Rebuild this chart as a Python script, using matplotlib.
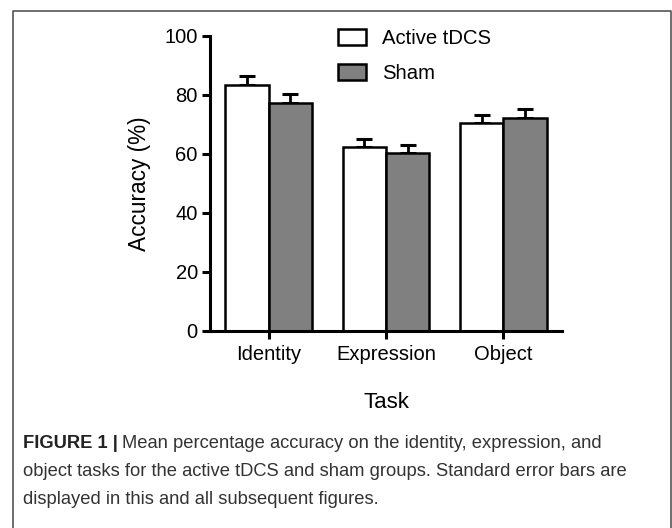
import numpy as np
import matplotlib.pyplot as plt
from matplotlib.lines import Line2D

plt.rcParams['font.family'] = ['Liberation Sans', 'DejaVu Sans']

tasks = ['Identity', 'Expression', 'Object']
active = [83.3, 62.4, 70.3]
active_se = [3.0, 2.6, 2.8]
sham = [77.1, 60.3, 72.1]
sham_se = [3.3, 2.6, 3.0]

fig = plt.figure(figsize=(6.72, 5.28), dpi=100)
ax = fig.add_axes([0.3125, 0.3737, 0.5238, 0.5582])

x = np.arange(len(tasks))
w = 0.368
ax.bar(x - w / 2, active, w, color='white', edgecolor='black', linewidth=1.8,
       label='Active tDCS', zorder=2)
ax.bar(x + w / 2, sham, w, color='#808080', edgecolor='black', linewidth=1.8,
       label='Sham', zorder=2)
# only the upper half of the standard error bar is shown
ax.errorbar(x - w / 2, active, yerr=[np.zeros(3), active_se], fmt='none', ecolor='black',
            elinewidth=2.0, capsize=5.5, capthick=2.2, zorder=1)
ax.errorbar(x + w / 2, sham, yerr=[np.zeros(3), sham_se], fmt='none', ecolor='black',
            elinewidth=2.0, capsize=5.5, capthick=2.2, zorder=1)

ax.set_xlim(-0.5, 2.5)
ax.set_ylim(0, 100)
ax.set_yticks([0, 20, 40, 60, 80, 100])
ax.set_xticks(x)
ax.set_xticklabels(tasks)
for s in ['top', 'right']:
    ax.spines[s].set_visible(False)
for s in ['left', 'bottom']:
    ax.spines[s].set_linewidth(2.2)
ax.tick_params(width=2.2, length=5.8, labelsize=14.5, pad=3)
ax.tick_params(axis='x', pad=4.5)
ax.set_ylabel('Accuracy (%)', fontsize=16.3, labelpad=10)
ax.set_xlabel('Task', fontsize=16, labelpad=20)

ax.legend(frameon=False, fontsize=14.6, loc='upper left',
          bbox_to_anchor=(338 / 672, 1 - 29 / 528), bbox_transform=fig.transFigure,
          handlelength=1.39, handleheight=0.8, handletextpad=0.8, labelspacing=0.8,
          borderpad=0, borderaxespad=0)

# outer frame of the figure panel
x0, x1, top = 13 / 672, 671 / 672, 1 - 11 / 528
fig.add_artist(Line2D([x0, x0, x1, x1], [0, top, top, 0], transform=fig.transFigure,
                      color='#555555', linewidth=1.2))

cap_fs = 13.25
cap_x = 23 / 672
head = fig.text(cap_x, 1 - 443 / 528, 'FIGURE 1 |', fontsize=cap_fs, fontweight='bold',
                color='#222222', va='center')
fig.canvas.draw()
bb = head.get_window_extent().transformed(fig.transFigure.inverted())
fig.text(bb.x1 + 4 / 672, 1 - 443 / 528, 'Mean percentage accuracy on the identity, expression, and',
         fontsize=cap_fs, color='#333333', va='center')
fig.text(cap_x, 1 - 472 / 528, 'object tasks for the active tDCS and sham groups. Standard error bars are',
         fontsize=cap_fs, color='#333333', va='center')
fig.text(cap_x, 1 - 500 / 528, 'displayed in this and all subsequent figures.',
         fontsize=cap_fs, color='#333333', va='center')

plt.savefig('out.png', dpi=100)
plt.close()
